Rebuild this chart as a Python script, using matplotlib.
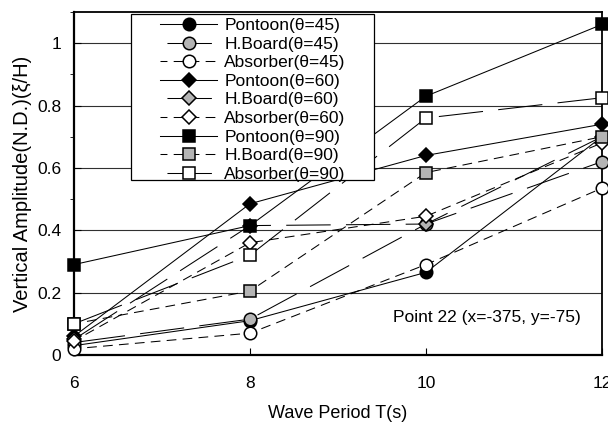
import matplotlib
matplotlib.use("Agg")
import matplotlib.pyplot as plt
from matplotlib.ticker import MultipleLocator
from matplotlib.patches import Rectangle

plt.rcParams['font.family'] = ['Liberation Sans', 'DejaVu Sans']
plt.rcParams['lines.scale_dashes'] = False

# wave periods
periods = [6, 8, 10, 12]

# vertical amplitude
pontoon_45 = [0.03, 0.11, 0.265, 0.70]
hboard_45 = [0.04, 0.115, 0.42, 0.62]
absorber_45 = [0.02, 0.07, 0.29, 0.535]
pontoon_60 = [0.06, 0.485, 0.64, 0.74]
hboard_60 = [0.05, 0.415, 0.42, 0.70]
absorber_60 = [0.045, 0.36, 0.445, 0.68]
pontoon_90 = [0.29, 0.415, 0.83, 1.06]
hboard_90 = [0.10, 0.205, 0.585, 0.70]
absorber_90 = [0.10, 0.32, 0.76, 0.825]

labels = ["Pontoon(θ=45)", "H.Board(θ=45)", "Absorber(θ=45)",
          "Pontoon(θ=60)", "H.Board(θ=60)", "Absorber(θ=60)",
          "Pontoon(θ=90)", "H.Board(θ=90)", "Absorber(θ=90)"]

solid = '-'
long_dash = (38, (32, 11))
short_dash = (2, (7, 4.5))
grey = '#b4b4b4'

series = [
    (pontoon_45, 'o', 'black', solid),
    (hboard_45, 'o', grey, long_dash),
    (absorber_45, 'o', 'white', short_dash),
    (pontoon_60, 'D', 'black', solid),
    (hboard_60, 'D', grey, long_dash),
    (absorber_60, 'D', 'white', short_dash),
    (pontoon_90, 's', 'black', solid),
    (hboard_90, 's', grey, short_dash),
    (absorber_90, 's', 'white', long_dash),
]

fig = plt.figure(figsize=(6.08, 4.26), dpi=100)
ax = fig.add_axes([0.1217, 0.1667, 0.8683, 0.8051])

for (vals, mk, fc, ls), lab in zip(series, labels):
    ms = {'o': 9, 'D': 7.5, 's': 9}[mk]
    ax.plot(periods, vals, linestyle=ls, color='black', lw=0.75,
            marker=mk, markersize=ms, markerfacecolor=fc,
            markeredgecolor='black', markeredgewidth=1.1,
            clip_on=False, label=lab, zorder=3)

ax.set_xlim(6, 12)
ax.set_ylim(0, 1.1)
ax.set_xticks([6, 8, 10, 12])
ax.set_yticks([0, 0.2, 0.4, 0.6, 0.8, 1.0])
ax.set_yticklabels(['0', '0.2', '0.4', '0.6', '0.8', '1'])
ax.yaxis.set_minor_locator(MultipleLocator(0.1))
ax.tick_params(axis='both', direction='in', labelsize=12.5, width=0.8)
ax.tick_params(axis='x', length=5, pad=15)
ax.tick_params(axis='y', which='major', length=5, pad=9)
ax.tick_params(axis='y', which='minor', length=3)

for y in [0.2, 0.4, 0.6, 0.8, 1.0]:
    ax.axhline(y, color='#303030', lw=0.8, zorder=1)

for s in ax.spines.values():
    s.set_linewidth(1.3)
ax.spines['bottom'].set_linewidth(1.6)
ax.spines['left'].set_linewidth(1.6)

ax.set_xlabel("Wave Period T(s)", fontsize=13, labelpad=10)
ax.set_ylabel("Vertical Amplitude(N.D.)(ξ/H)", fontsize=14.5, labelpad=4)

ax.text(0.604, 0.108, "Point 22 (x=-375, y=-75)", transform=ax.transAxes,
        fontsize=12.5, va='center', ha='left')

# legend box drawn separately so its padding matches
box = Rectangle((0.108, 0.510), 0.46, 0.484, transform=ax.transAxes,
                facecolor='white', edgecolor='black', lw=0.9, zorder=4)
ax.add_patch(box)
leg = ax.legend(loc='upper left', bbox_to_anchor=(0.163, 0.983), fontsize=12.5,
                frameon=False, handlelength=3.3, handletextpad=0.4,
                labelspacing=0.2, borderpad=0, borderaxespad=0)
leg.set_zorder(5)

fig.savefig("out.png", dpi=100)
